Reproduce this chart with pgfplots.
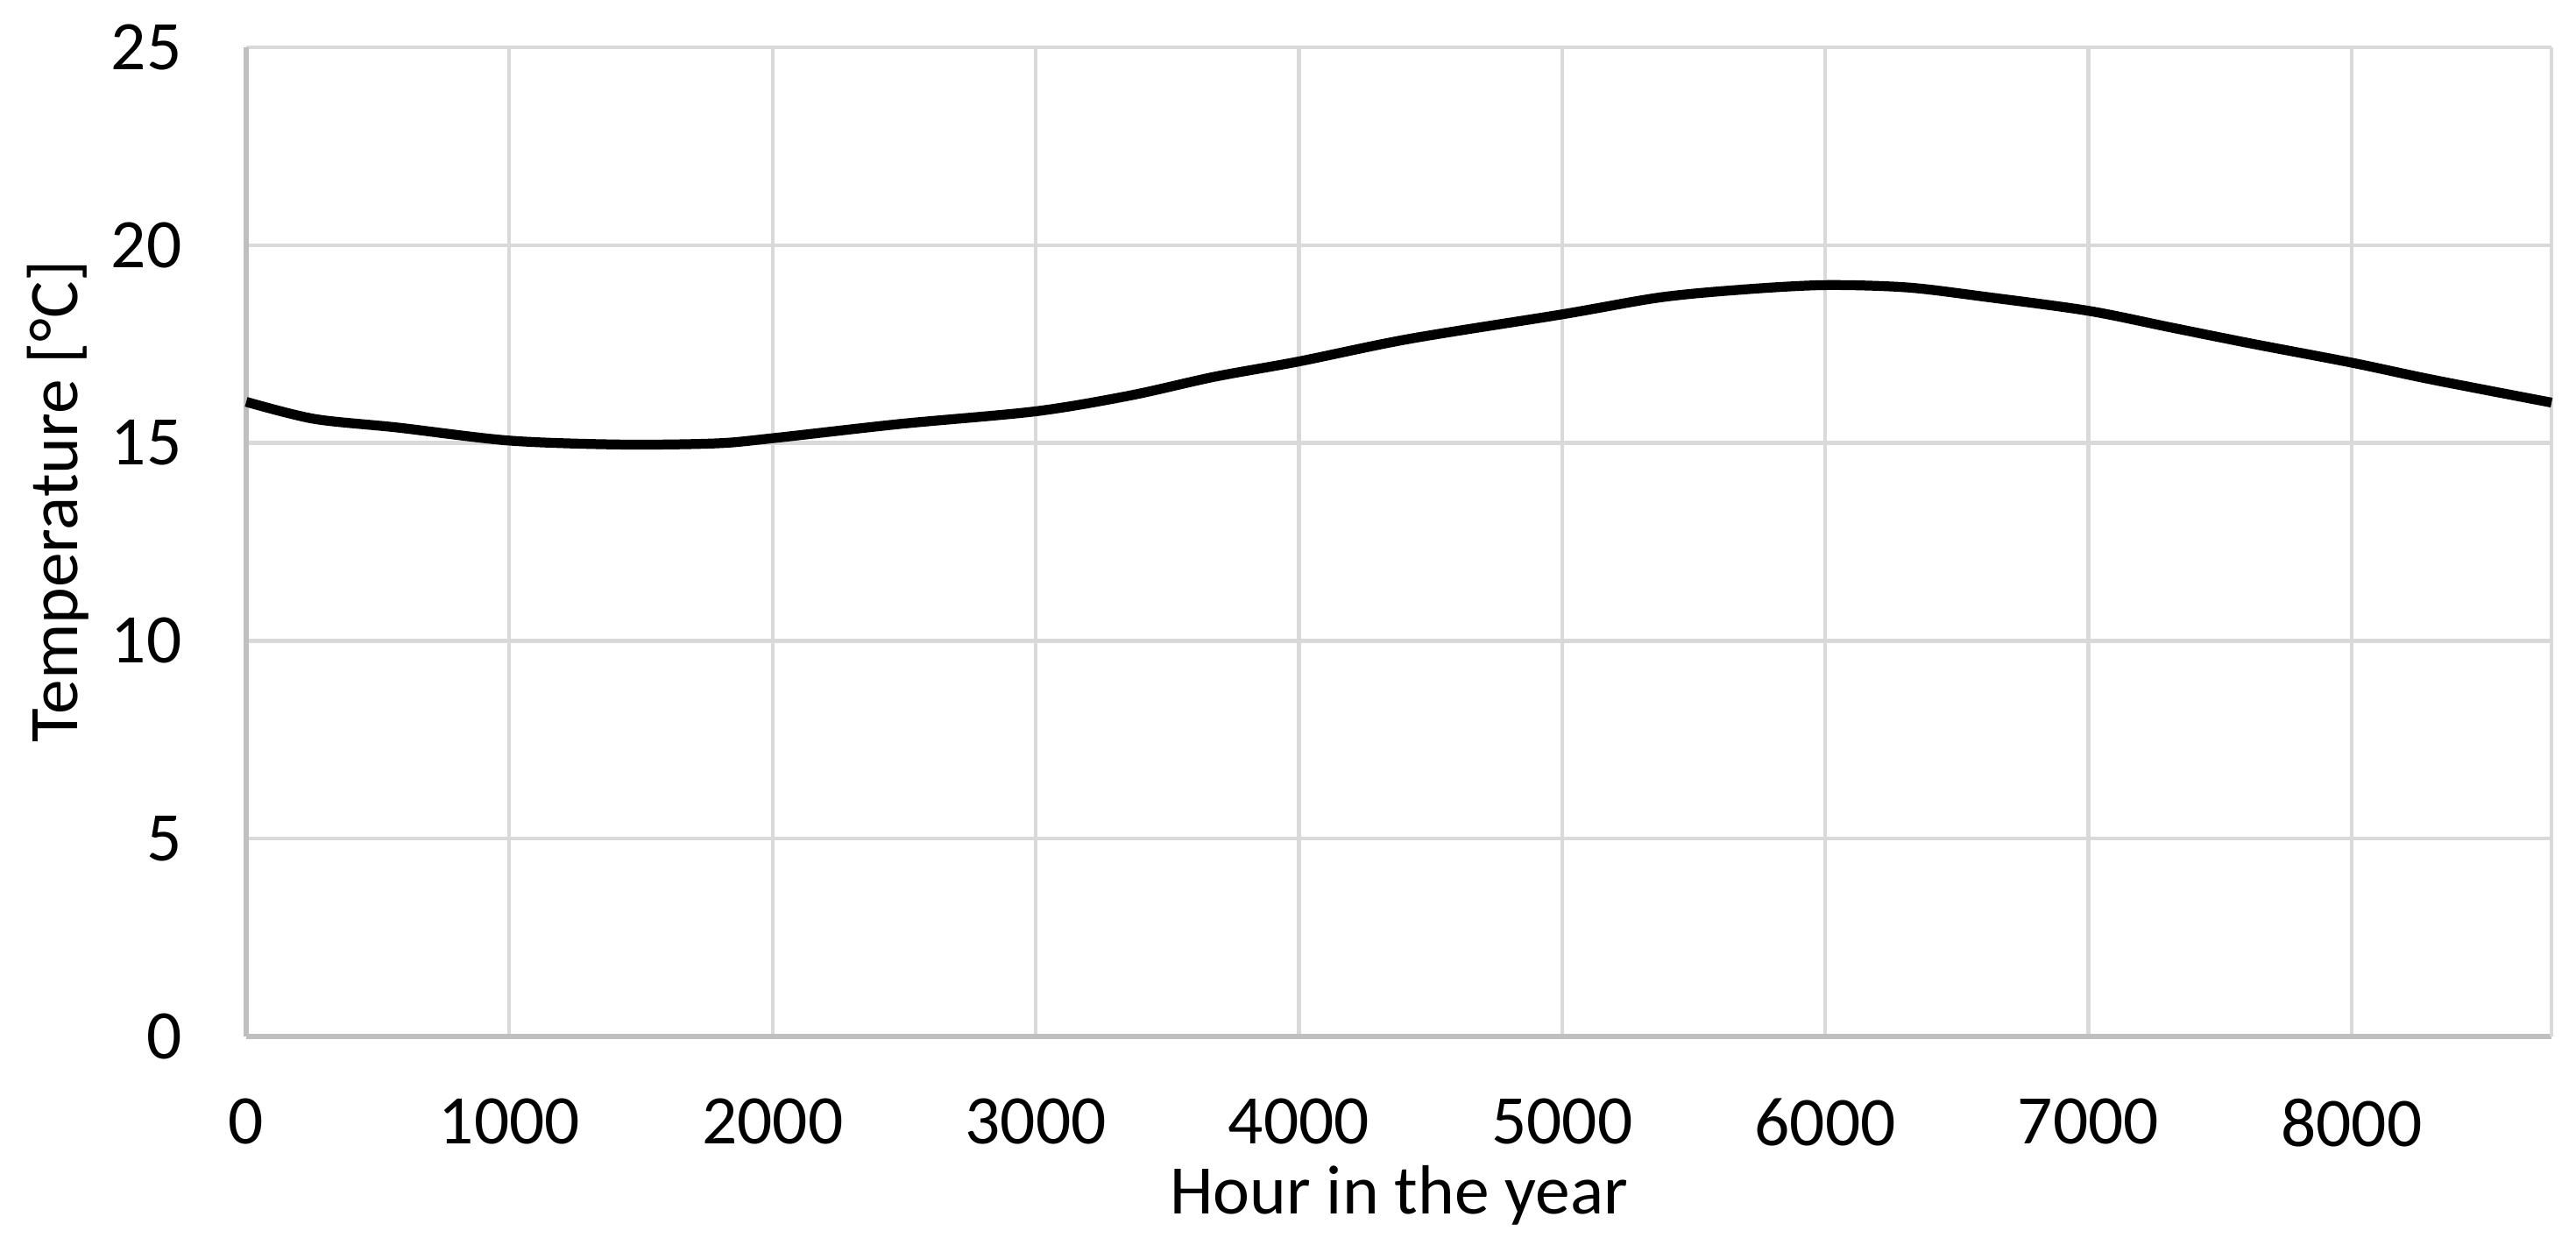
\documentclass[border=0pt]{standalone}
\usepackage{fontspec}
\setmainfont{Carlito}
\usepackage{pgfplots}
\pgfplotsset{compat=1.18}
\definecolor{gridgray}{HTML}{D9D9D9}
\definecolor{axisgray}{HTML}{BFBFBF}

\begin{document}
\begin{tikzpicture}
\begin{axis}[
    scale only axis,
    width=13.155cm,
    height=5.645cm,
    xmin=0, xmax=8760,
    ymin=0, ymax=25,
    xtick={0,1000,...,8000},
    ytick={0,5,...,25},
    axis lines=left,
    axis line style={axisgray, line width=0.85pt, -},
    tick style={draw=none},
    grid=major,
    major grid style={gridgray, line width=0.6pt},
    font=\fontsize{11.3}{13.5}\selectfont,
    /pgf/number format/assume math mode=true,
    /pgf/number format/set thousands separator={},
    xticklabel style={yshift=-4.4pt},
    yticklabel style={xshift=-4.8pt},
    xlabel={Hour in the year},
    ylabel={Temperature [°C]},
    xlabel style={at={(rel axis cs:0.5,-0.161)}, anchor=center},
    ylabel style={at={(rel axis cs:-0.0817,0.541)}, anchor=center, rotate=0},
    clip=false,
]
\draw[gridgray, line width=0.6pt] (rel axis cs:1,0) -- (rel axis cs:1,1);
\addplot[black, line width=1.6pt, smooth, tension=0.5] coordinates {
(0,16.04) (257,15.61) (575,15.39) (1000,15.06) (1425,14.96) (1786,14.99)
(2000,15.12) (2484,15.48) (3000,15.80) (3359,16.2) (3677,16.67) (4000,17.06)
(4419,17.63) (5000,18.25) (5374,18.68) (5692,18.88) (6000,18.99) (6313,18.93)
(6613,18.69) (7000,18.34) (7313,17.92) (7613,17.52) (8000,17.03) (8307,16.6)
(8760,16.02)
};
\coordinate (bl) at (rel axis cs:-0.1068,-0.2099);
\coordinate (tr) at (rel axis cs:1.0106,1.0478);
\end{axis}
\pgfresetboundingbox
\useasboundingbox (bl) rectangle (tr);
\end{tikzpicture}
\end{document}
